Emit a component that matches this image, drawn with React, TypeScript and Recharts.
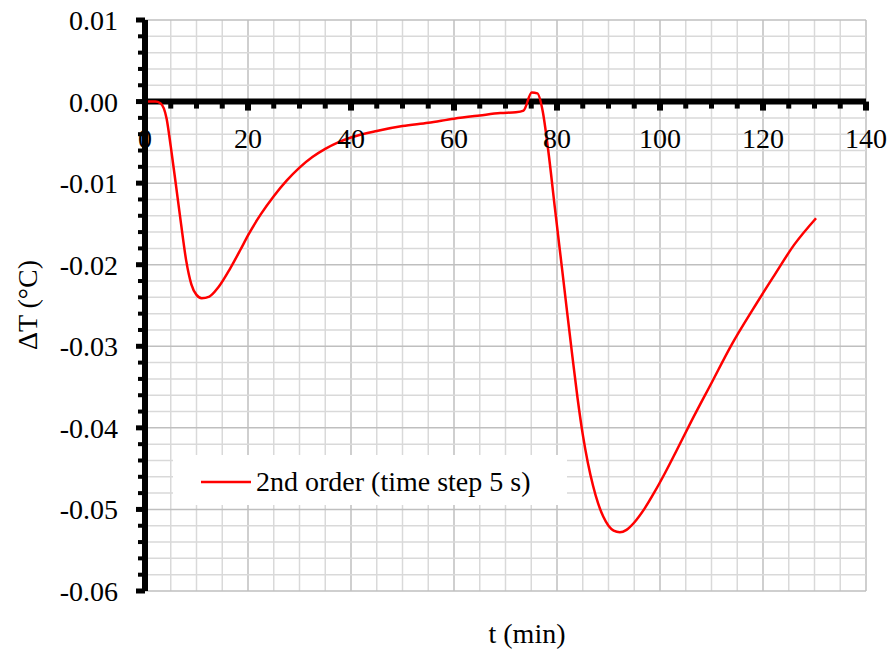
import React from 'react';
import {
  LineChart,
  Line,
  XAxis,
  YAxis,
  ReferenceLine,
  ReferenceDot,
  Legend,
  Label,
} from 'recharts';

// time (min) and temperature difference (°C)
const minutes = [
  0, 1, 2, 3, 4.2, 5, 6, 7, 8, 9, 10, 11, 12.5, 14.2, 16.5, 18.5, 20, 22.5, 25, 27.5, 30,
  32.5, 35, 37.5, 40, 45, 50, 55, 60, 65, 69, 72, 73.5, 75.1, 76.2, 77.2, 78.3, 79.6, 81, 82,
  83, 84, 85, 86, 87, 88, 89, 90, 91, 92.2, 93.5, 95, 97, 99, 101, 103.2, 106, 110, 114, 118,
  122, 126, 130.3,
];
const deltaT = [
  0, 0, 0, -0.0002, -0.0021, -0.0055, -0.0102, -0.015, -0.0195, -0.0224, -0.0237, -0.0241,
  -0.0239, -0.0228, -0.0205, -0.0182, -0.0164, -0.0138, -0.0116, -0.0097, -0.0081, -0.0068,
  -0.0058, -0.005, -0.0044, -0.0036, -0.003, -0.0026, -0.0021, -0.0017, -0.0014, -0.0013,
  -0.0011, 0.0011, 0.001, -0.0011, -0.006, -0.0131, -0.0206, -0.026, -0.0313, -0.0364,
  -0.0408, -0.0443, -0.0471, -0.0493, -0.0509, -0.052, -0.0526, -0.0528, -0.0525, -0.0516,
  -0.0499, -0.0478, -0.0455, -0.0428, -0.0393, -0.0345, -0.0297, -0.0255, -0.0215, -0.0176,
  -0.0143,
];

const xTicks = [0, 5, 10, 15, 20, 25, 30, 35, 40, 45, 50, 55, 60, 65, 70, 75, 80, 85, 90, 95, 100, 105, 110, 115, 120, 125, 130, 135, 140];
const xLabels = [0, 20, 40, 60, 80, 100, 120, 140];
const yTicks = [
  0.01, 0.008, 0.006, 0.004, 0.002, 0, -0.002, -0.004, -0.006, -0.008, -0.01, -0.012, -0.014,
  -0.016, -0.018, -0.02, -0.022, -0.024, -0.026, -0.028, -0.03, -0.032, -0.034, -0.036, -0.038,
  -0.04, -0.042, -0.044, -0.046, -0.048, -0.05, -0.052, -0.054, -0.056, -0.058, -0.06,
];

const data = minutes.map((t, i) => ({ t, dT: deltaT[i] }));

const FONT = 'Tinos, "Times New Roman", "Liberation Serif", "Noto Serif", FreeSerif, "DejaVu Serif", Times, serif';
const txt = { fontFamily: FONT, fontSize: 28, fill: '#000' };
const isMajorY = (v: number) => Math.abs(v * 100 - Math.round(v * 100)) < 1e-6;

const YTick = ({ x, y, payload }: any) => {
  const major = isMajorY(payload.value);
  return (
    <g>
      <rect x={x - (major ? 9 : 7)} y={y - (major ? 2.5 : 2)} width={major ? 9 : 7} height={major ? 5 : 4} fill="#000" />
      {major && (
        <text x={x - 27} y={y + 10} textAnchor="end" style={txt}>
          {payload.value.toFixed(2)}
        </text>
      )}
    </g>
  );
};

// tick marks and labels for the x axis, which sits on the zero line
const xTickShape = (value: number) => (props: any) => {
  const { cx, cy } = props;
  const major = value % 20 === 0;
  return (
    <g>
      <rect x={cx - (major ? 3 : 2.5)} y={cy} width={major ? 6 : 5} height={major ? 9 : 7} fill="#000" />
      {major && (
        <text x={cx} y={cy + 46} textAnchor="middle" style={txt}>
          {value}
        </text>
      )}
    </g>
  );
};

const LegendContent = () => (
  <svg width={394} height={50}>
    <line x1={28} y1={27} x2={78} y2={27} stroke="#ff0000" strokeWidth={2.5} />
    <text x={83} y={36} style={txt}>
      2nd order (time step 5 s)
    </text>
  </svg>
);

export default function App() {
  return (
    <div style={{ position: 'absolute', left: 0, top: 0, background: '#fff', fontFamily: FONT }}>
      <LineChart width={894} height={667} data={data} margin={{ top: 20, right: 28, bottom: 0, left: 0 }}>
        <XAxis
          dataKey="t"
          type="number"
          domain={[0, 140]}
          ticks={xLabels}
          tick={false}
          tickLine={false}
          axisLine={false}
          height={76}
        >
          <Label
            content={() => (
              <text x={527} y={643} textAnchor="middle" style={txt}>
                t (min)
              </text>
            )}
          />
        </XAxis>
        <YAxis
          type="number"
          domain={[-0.06, 0.01]}
          ticks={yTicks}
          interval={0}
          width={145}
          tickSize={0}
          tickMargin={0}
          tickLine={false}
          axisLine={{ stroke: '#000', strokeWidth: 6 }}
          tick={<YTick />}
        >
          <Label
            content={() => (
              <text x={37} y={305} transform="rotate(-90 37 305)" textAnchor="middle" style={txt}>
                ΔT (°C)
              </text>
            )}
          />
        </YAxis>

        {/* minor and major grid */}
        {xTicks
          .filter((v) => v > 0)
          .map((v) => (
            <ReferenceLine key={`gx${v}`} x={v} stroke={v % 20 === 0 ? '#bfbfbf' : '#d9d9d9'} strokeWidth={1.5} />
          ))}
        {yTicks.map((v) => (
          <ReferenceLine key={`gy${v}`} y={v} stroke={isMajorY(v) ? '#bfbfbf' : '#d9d9d9'} strokeWidth={1.5} />
        ))}

        {/* horizontal axis on the zero line */}
        <ReferenceLine y={0} stroke="#000" strokeWidth={6} />
        {xTicks.map((v) => (
          <ReferenceDot key={`xt${v}`} x={v} y={0} r={0} ifOverflow="visible" shape={xTickShape(v)} />
        ))}

        <Legend
          layout="horizontal"
          verticalAlign="middle"
          align="center"
          content={<LegendContent />}
          wrapperStyle={{ left: 173, top: 455, width: 394, height: 50, background: '#fff' }}
        />
        <Line
          type="monotone"
          dataKey="dT"
          stroke="#ff0000"
          strokeWidth={2.5}
          dot={false}
          isAnimationActive={false}
        />
      </LineChart>
    </div>
  );
}
